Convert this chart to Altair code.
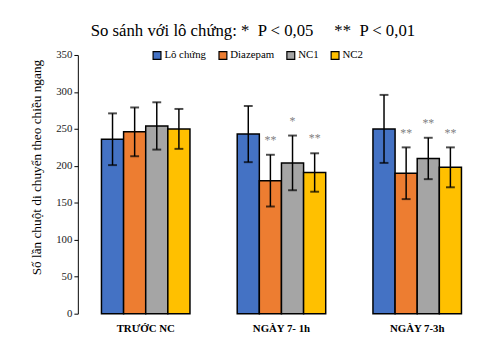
import altair as alt
import pandas as pd

groups = ["TRƯỚC NC", "NGÀY 7- 1h", "NGÀY 7-3h"]
series = ["Lô chứng", "Diazepam", "NC1", "NC2"]
colors = ["#4472C4", "#ED7D31", "#A5A5A5", "#FFC000"]

means = [
    [236, 246, 254, 250],
    [243, 180, 204, 191],
    [250, 190, 210, 198],
]
errs = [
    [35, 33, 32, 27],
    [38, 35, 37, 26],
    [46, 35, 28, 27],
]
stars = [
    ["", "", "", ""],
    ["", "**", "*", "**"],
    ["", "**", "**", "**"],
]
yticks = [0, 50, 100, 150, 200, 250, 300, 350]

rows = []
for gi, g in enumerate(groups):
    for si, s in enumerate(series):
        m = means[gi][si]
        e = errs[gi][si]
        rows.append({"g": g, "s": s, "m": m, "lo": m - e, "hi": m + e, "star": stars[gi][si]})
df = pd.DataFrame(rows)

FONT = "Liberation Serif"
NB = "\u00a0"
title_text = f"So sánh với lô chứng: *{NB}{NB}P < 0,05{NB}{NB}{NB}{NB}{NB}**{NB}{NB}P < 0,01"
ytitle = "Số lần chuột di chuyển theo chiều ngang"

xscale = alt.Scale(paddingInner=0.348, paddingOuter=0.174)
xaxis = alt.Axis(labelAngle=0, domain=False, ticks=False, labelPadding=9,
                 labelFont=FONT, labelFontSize=11, labelFontWeight="bold",
                 labelColor="#000000")
xenc = alt.X("g:N", sort=groups, title=None, scale=xscale, axis=xaxis)
xoff = alt.XOffset("s:N", sort=series)
yscale = alt.Scale(domain=[0, 350])
yaxis = alt.Axis(values=yticks, grid=False, labelOverlap=False,
                 domainColor="#000000", tickColor="#000000", tickSize=4,
                 labelFont=FONT, labelFontSize=11, labelColor="#222222",
                 titleFont=FONT, titleFontSize=13.5, titleFontWeight="normal",
                 titleColor="#000000", titlePadding=12, titleY=114)


def yenc(field):
    return alt.Y(field, scale=yscale, title=ytitle, axis=yaxis)


base = alt.Chart(df)

bars = base.mark_bar(stroke="#000000", strokeWidth=1.5).encode(
    x=xenc,
    xOffset=xoff,
    y=yenc("m:Q"),
    color=alt.Color("s:N", sort=series, scale=alt.Scale(domain=series, range=colors),
                    legend=alt.Legend(title=None, orient="none", direction="horizontal",
                                      legendX=75, legendY=-5, symbolType="square",
                                      symbolSize=64, symbolStrokeColor="#000000",
                                      symbolStrokeWidth=1.2, labelFont=FONT,
                                      labelFontSize=11, labelColor="#000000",
                                      labelOffset=2, columnPadding=10)),
)

rules = base.mark_rule(color="#000000", strokeWidth=1.5).encode(
    x=xenc, xOffset=xoff, y=yenc("lo:Q"), y2="hi:Q",
)
caps_hi = base.mark_tick(color="#000000", thickness=2, size=9).encode(
    x=xenc, xOffset=xoff, y=yenc("hi:Q"),
)
caps_lo = base.mark_tick(color="#000000", thickness=2, size=9).encode(
    x=xenc, xOffset=xoff, y=yenc("lo:Q"),
)
labels = base.mark_text(color="#808080", font=FONT, fontSize=12, dy=-8, baseline="bottom").encode(
    x=xenc, xOffset=xoff, y=yenc("hi:Q"),
    text="star:N",
)

chart = alt.layer(bars, rules, caps_hi, caps_lo, labels).properties(
    width=414, height=263,
    title=alt.TitleParams(title_text,
                          font=FONT, fontSize=17, fontWeight="normal", color="#000000",
                          anchor="middle", dx=-29, offset=9),
    padding={"top": 12, "left": 22, "right": 5, "bottom": 5},
).configure_view(stroke=None)

chart.save("out.html", embed_options={"renderer": "svg", "actions": False})
